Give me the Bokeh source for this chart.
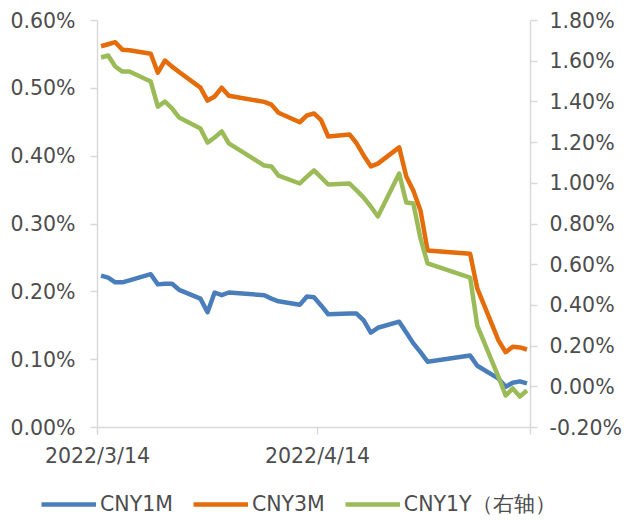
import pandas as pd
from bokeh.plotting import figure
from bokeh.models import (Range1d, LinearAxis, FixedTicker, PrintfTickFormatter,
                          Legend, LegendItem, ColumnDataSource)
from bokeh.embed import file_html
from bokeh.resources import INLINE

dates = ["2022-03-14", "2022-03-15", "2022-03-16", "2022-03-17", "2022-03-18",
         "2022-03-21", "2022-03-22", "2022-03-23", "2022-03-24", "2022-03-25",
         "2022-03-28", "2022-03-29", "2022-03-30", "2022-03-31", "2022-04-01",
         "2022-04-06", "2022-04-07", "2022-04-08",
         "2022-04-11", "2022-04-12", "2022-04-13", "2022-04-14", "2022-04-15",
         "2022-04-18", "2022-04-19", "2022-04-20", "2022-04-21", "2022-04-22",
         "2022-04-25", "2022-04-26", "2022-04-27", "2022-04-28", "2022-04-29",
         "2022-05-05", "2022-05-06",
         "2022-05-09", "2022-05-10", "2022-05-11", "2022-05-12", "2022-05-13"]

cny1m = [0.224, 0.221, 0.214, 0.214, 0.217,
         0.226, 0.211, 0.212, 0.212, 0.203,
         0.190, 0.170, 0.199, 0.195, 0.199,
         0.195, 0.190, 0.186,
         0.181, 0.193, 0.192, 0.180, 0.167,
         0.168, 0.168, 0.158, 0.140, 0.147,
         0.156, 0.140, 0.124, 0.111, 0.097,
         0.106, 0.091,
         0.072, 0.060, 0.066, 0.068, 0.065]

cny3m = [0.562, 0.565, 0.568, 0.557, 0.556,
         0.551, 0.523, 0.541, 0.532, 0.524,
         0.501, 0.482, 0.488, 0.501, 0.489,
         0.480, 0.476, 0.464,
         0.450, 0.460, 0.463, 0.453, 0.429,
         0.432, 0.419, 0.401, 0.385, 0.389,
         0.413, 0.370, 0.349, 0.320, 0.261,
         0.256, 0.205,
         0.128, 0.111, 0.119, 0.118, 0.115]

cny1y = [1.618, 1.628, 1.574, 1.549, 1.549,
         1.500, 1.377, 1.402, 1.368, 1.323,
         1.269, 1.200, 1.225, 1.255, 1.196,
         1.087, 1.083, 1.038,
         0.999, 1.033, 1.063, 1.029, 0.994,
         0.999, 0.965, 0.930, 0.886, 0.837,
         1.048, 0.906, 0.901, 0.729, 0.606,
         0.537, 0.301,
         0.048, -0.043, -0.008, -0.048, -0.018]

series_labels = ["CNY1M", "CNY3M", "CNY1Y（右轴）"]
x_ticks = ["2022-03-14", "2022-04-14", "2022-05-14"]
x_tick_labels = ["2022/3/14", "2022/4/14", ""]
left_ticks = [0.0, 0.1, 0.2, 0.3, 0.4, 0.5, 0.6]
right_ticks = [-0.2, 0.0, 0.2, 0.4, 0.6, 0.8, 1.0, 1.2, 1.4, 1.6, 1.8]

FONT = "DejaVu Sans ExtraLight, DejaVu Sans"
FS = "20.5px"
TXT = "#4d4d4d"
AX = "#d9d9d9"
COLORS = ["#4a7ebb", "#e46c0a", "#9bbb59"]

x = pd.to_datetime(dates) + pd.Timedelta(hours=12)
src = ColumnDataSource(dict(x=x, m1=cny1m, m3=cny3m, y1=cny1y))

p = figure(frame_width=433, frame_height=407, output_backend="svg", toolbar_location=None,
           x_axis_type="datetime",
           x_range=Range1d(pd.Timestamp(x_ticks[0]), pd.Timestamp(x_ticks[-1])),
           y_range=Range1d(0, 0.6),
           min_border_left=97, min_border_right=103, min_border_top=20,
           min_border_bottom=45)
p.extra_y_ranges = {"right": Range1d(-0.2, 1.8)}
p.outline_line_color = None
p.xgrid.visible = False
p.ygrid.visible = False

p.line("x", "m1", source=src, color=COLORS[0], line_width=4.5, line_join="round")
p.line("x", "m3", source=src, color=COLORS[1], line_width=4.5, line_join="round")
p.line("x", "y1", source=src, color=COLORS[2], line_width=4.5, line_join="round",
       y_range_name="right")

raxis = LinearAxis(y_range_name="right")
p.add_layout(raxis, "right")

tick_ms = [pd.Timestamp(t).timestamp() * 1000 for t in x_ticks]
p.xaxis.ticker = FixedTicker(ticks=tick_ms)
p.xaxis.major_label_overrides = {t: lab for t, lab in zip(tick_ms, x_tick_labels)}
p.yaxis[0].ticker = FixedTicker(ticks=left_ticks)
raxis.ticker = FixedTicker(ticks=right_ticks)
p.yaxis[0].formatter = PrintfTickFormatter(format="%.2f%%")
raxis.formatter = PrintfTickFormatter(format="%.2f%%")

for ax in [p.xaxis[0], p.yaxis[0], raxis]:
    ax.axis_line_color = AX
    ax.axis_line_width = 1.5
    ax.major_tick_line_color = AX
    ax.major_tick_line_width = 1.5
    ax.major_tick_out = 7
    ax.major_tick_in = 0
    ax.minor_tick_line_color = None
    ax.major_label_text_font = FONT
    ax.major_label_text_font_size = FS
    ax.major_label_text_color = TXT

p.yaxis[0].major_label_standoff = 15
raxis.major_label_standoff = 12
p.xaxis[0].major_label_standoff = 9

# legend strip below the chart, as its own root (no frame alignment with the chart)
pl = figure(width=633, height=48, output_backend="svg", toolbar_location=None,
            x_range=Range1d(0, 1), y_range=Range1d(0, 1),
            x_axis_location=None, y_axis_location=None, min_border=0)
pl.outline_line_color = None
pl.xgrid.visible = False
pl.ygrid.visible = False
k1 = pl.line("x", "m1", source=src, color=COLORS[0], line_width=4.5)
k2 = pl.line("x", "m3", source=src, color=COLORS[1], line_width=4.5)
k3 = pl.line("x", "y1", source=src, color=COLORS[2], line_width=4.5)

legend = Legend(items=[LegendItem(label=series_labels[0], renderers=[k1]),
                       LegendItem(label=series_labels[1], renderers=[k2]),
                       LegendItem(label=series_labels[2], renderers=[k3])],
                orientation="horizontal", location=(41, 2),
                label_text_font=FONT, label_text_font_size=FS,
                label_text_color=TXT, glyph_width=55, glyph_height=20,
                label_standoff=4, spacing=20, border_line_color=None,
                background_fill_alpha=0, padding=4, margin=0)
pl.add_layout(legend)

open("out.html", "w").write(file_html([p, pl], INLINE))
